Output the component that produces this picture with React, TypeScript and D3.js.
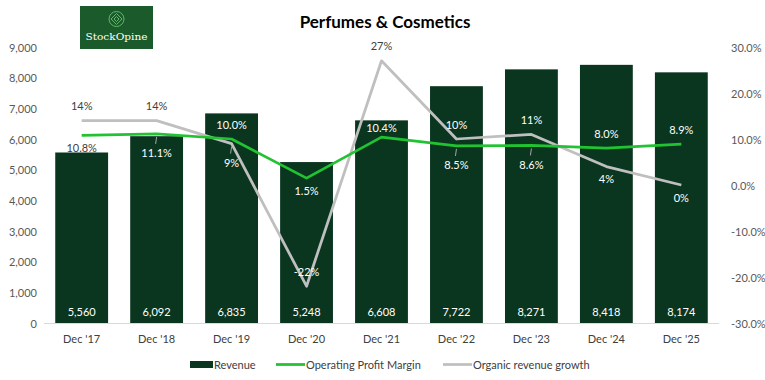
import React from "react";
import * as d3 from "d3";

const categories = ["Dec '17", "Dec '18", "Dec '19", "Dec '20", "Dec '21", "Dec '22", "Dec '23", "Dec '24", "Dec '25"];
const revenue = [5560, 6092, 6835, 5248, 6608, 7722, 8271, 8418, 8174];
const opMargin = [10.8, 11.1, 10.0, 1.5, 10.4, 8.5, 8.6, 8.0, 8.9];
const organicGrowth = [14, 14, 9, -22, 27, 10, 11, 4, 0];
const leftTicks = [0, 1000, 2000, 3000, 4000, 5000, 6000, 7000, 8000, 9000];
const rightTicks = [-30, -20, -10, 0, 10, 20, 30];
// label placement: a = above, n = just above, b = below, l = below with leader line
const opmLabelPos = ["b", "l", "a", "b", "n", "l", "l", "a", "a"];
const growthLabelPos = ["a", "a", "l", "a", "a", "a", "a", "b", "b"];

const W = 765;
const H = 380;
const FONT = "Lato, 'Open Sans', sans-serif";
const BAR = "#0a3620";
const GREEN = "#22c332";
const GRAY = "#bfbfbf";
const TXT = "#595959";

export default function App() {
  const x = d3.scaleBand<string>().domain(categories).range([44, 719]).paddingInner(0.295).paddingOuter(0.15);
  const yL = d3.scaleLinear().domain([0, 9000]).range([323, 47]);
  const yR = d3.scaleLinear().domain([-30, 30]).range([323, 47]);
  const cx = (i: number) => (x(categories[i]) as number) + x.bandwidth() / 2;
  const line = d3.line<number>().x((_, i) => cx(i)).y((d) => yR(d));
  const fmt = d3.format(",");

  const labelY = (pos: string, py: number) =>
    pos === "a" ? py - 15 : pos === "n" ? py - 10 : pos === "b" ? py + 12 : py + 19;

  const renderLabels = (vals: number[], pos: string[], text: (v: number) => string, key: string) =>
    vals.map((v, i) => {
      const py = yR(v);
      const ly = labelY(pos[i], py);
      const barTop = yL(revenue[i]);
      const onBar = ly > barTop;
      return (
        <g key={key + i}>
          {pos[i] === "l" && (
            <line x1={cx(i)} x2={cx(i) - 1} y1={py + 3} y2={ly - 9} stroke="#a6a6a6" strokeWidth={1} />
          )}
          <text
            x={cx(i)}
            y={ly}
            textAnchor="middle"
            dominantBaseline="central"
            fontSize={11}
            fill={onBar ? "#ffffff" : "#404040"}
          >
            {text(v)}
          </text>
        </g>
      );
    });

  return (
    <svg width={W} height={H} style={{ position: "absolute", left: 0, top: 0, fontFamily: FONT }}>
      <rect width={W} height={H} fill="#ffffff" />
      {/* logo */}
      <g>
        <rect x={80} y={6} width={73} height={43} fill="#1b5a2a" />
        <circle cx={116.5} cy={19} r={7.5} fill="none" stroke="#5fb86a" strokeWidth={1} />
        <path d="M116.5,13.5 L122,19 L116.5,24.5 L111,19 Z" fill="none" stroke="#5fb86a" strokeWidth={1} />
        <path d="M116.5,16.5 L119,19 L116.5,21.5 L114,19 Z" fill="none" stroke="#5fb86a" strokeWidth={1} />
        <text x={116.5} y={40} textAnchor="middle" fontSize={10} fill="#ffffff" fontFamily="'DejaVu Serif', 'Liberation Serif', serif" textLength={62} lengthAdjust="spacingAndGlyphs">
          StockOpine
        </text>
      </g>
      {/* title */}
      <text x={385} y={21} textAnchor="middle" dominantBaseline="central" fontSize={17} fontWeight="bold" fill="#000">
        Perfumes &amp; Cosmetics
      </text>
      {/* left axis */}
      {leftTicks.map((t) => (
        <text key={"l" + t} x={37} y={yL(t)} textAnchor="end" dominantBaseline="central" fontSize={11} fill={TXT}>
          {fmt(t)}
        </text>
      ))}
      {/* right axis */}
      {rightTicks.map((t) => (
        <text key={"r" + t} x={731} y={yR(t)} textAnchor="start" dominantBaseline="central" fontSize={11} fill={TXT}>
          {t.toFixed(1) + "%"}
        </text>
      ))}
      {/* bars */}
      {revenue.map((v, i) => (
        <rect key={"b" + i} x={x(categories[i])} y={yL(v)} width={x.bandwidth()} height={yL(0) - yL(v)} fill={BAR} />
      ))}
      <line x1={44} x2={719} y1={323.5} y2={323.5} stroke="#d9d9d9" strokeWidth={1} />
      {revenue.map((v, i) => (
        <text key={"bv" + i} x={cx(i)} y={311} textAnchor="middle" dominantBaseline="central" fontSize={11} fill="#ffffff">
          {fmt(v)}
        </text>
      ))}
      {/* category labels */}
      {categories.map((c, i) => (
        <text key={"c" + i} x={cx(i)} y={338} textAnchor="middle" dominantBaseline="central" fontSize={11} fill="#404040">
          {c}
        </text>
      ))}
      {/* lines */}
      <path d={line(organicGrowth) || ""} fill="none" stroke={GRAY} strokeWidth={2.75} strokeLinejoin="round" />
      <path d={line(opMargin) || ""} fill="none" stroke={GREEN} strokeWidth={2.75} strokeLinejoin="round" />
      {renderLabels(opMargin, opmLabelPos, (v) => v.toFixed(1) + "%", "o")}
      {renderLabels(organicGrowth, growthLabelPos, (v) => v.toFixed(0) + "%", "g")}
      {/* legend */}
      <g fontSize={11} fill="#404040">
        <rect x={190} y={361} width={23} height={7} fill={BAR} />
        <text x={214} y={364.5} dominantBaseline="central" fill="#404040">Revenue</text>
        <line x1={276} x2={305} y1={364.5} y2={364.5} stroke={GREEN} strokeWidth={2.75} />
        <text x={306} y={364.5} dominantBaseline="central" fill="#404040">Operating Profit Margin</text>
        <line x1={443} x2={472} y1={364.5} y2={364.5} stroke={GRAY} strokeWidth={2.75} />
        <text x={473} y={364.5} dominantBaseline="central" fill="#404040">Organic revenue growth</text>
      </g>
    </svg>
  );
}
